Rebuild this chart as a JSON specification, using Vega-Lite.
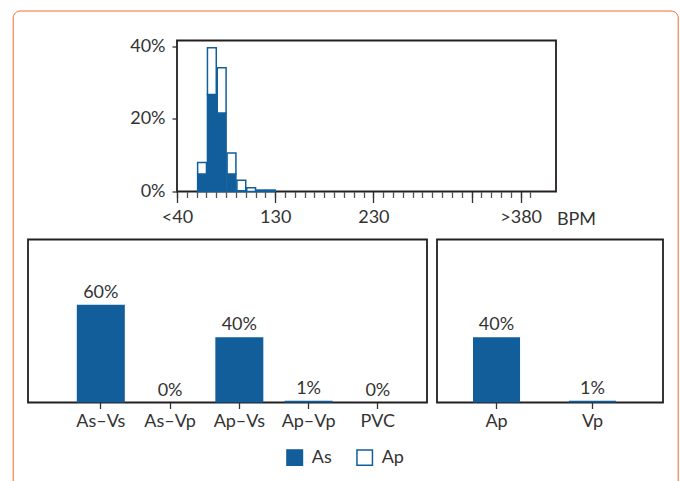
{
  "$schema": "https://vega.github.io/schema/vega-lite/v6.json",
  "background": "white",
  "padding": {"left": 12, "top": 9.5, "right": 2, "bottom": 0},
  "config": {
    "font": "Lato",
    "view": {"stroke": "#231f20", "strokeWidth": 1.8},
    "axis": {"labelFont": "Lato", "labelFontSize": 18, "labelColor": "#333333", "tickColor": "#333333", "tickWidth": 1.3, "domain": false, "grid": false, "titleFont": "Lato", "titleFontSize": 18, "titleColor": "#333333", "titleFontWeight": "normal"},
    "legend": {"labelFont": "Lato", "labelFontSize": 18, "labelColor": "#333333"},
    "text": {"font": "Lato"}
  },
  "datasets": {
    "hist": [
      {"bin_start": 50, "bin_end": 60, "pacing": "As", "share": 0.048},
      {"bin_start": 50, "bin_end": 60, "pacing": "Ap", "share": 0.032},
      {"bin_start": 60, "bin_end": 70, "pacing": "As", "share": 0.267},
      {"bin_start": 60, "bin_end": 70, "pacing": "Ap", "share": 0.129},
      {"bin_start": 70, "bin_end": 80, "pacing": "As", "share": 0.216},
      {"bin_start": 70, "bin_end": 80, "pacing": "Ap", "share": 0.125},
      {"bin_start": 80, "bin_end": 90, "pacing": "As", "share": 0.048},
      {"bin_start": 80, "bin_end": 90, "pacing": "Ap", "share": 0.058},
      {"bin_start": 90, "bin_end": 100, "pacing": "As", "share": 0.002},
      {"bin_start": 90, "bin_end": 100, "pacing": "Ap", "share": 0.029},
      {"bin_start": 100, "bin_end": 110, "pacing": "Ap", "share": 0.010},
      {"bin_start": 110, "bin_end": 120, "pacing": "Ap", "share": 0.004},
      {"bin_start": 120, "bin_end": 130, "pacing": "Ap", "share": 0.004}
    ],
    "modes": [
      {"mode": "As–Vs", "share": 0.60},
      {"mode": "As–Vp", "share": 0.0},
      {"mode": "Ap–Vs", "share": 0.40},
      {"mode": "Ap–Vp", "share": 0.01},
      {"mode": "PVC", "share": 0.0}
    ],
    "paced": [
      {"chamber": "Ap", "share": 0.40},
      {"chamber": "Vp", "share": 0.01}
    ]
  },
  "spacing": 9,
  "vconcat": [
    {
      "spacing": 10,
      "hconcat": [
        {
          "width": 78,
          "height": 10,
          "view": {"stroke": null},
          "data": {"values": []},
          "mark": "point"
        },
        {
          "width": 379,
          "height": 151,
          "data": {"name": "hist"},
          "layer": [
            {
              "mark": {"type": "bar", "stroke": "#115e9b", "strokeWidth": 1.5},
              "encoding": {
                "x": {"field": "bin_start", "type": "quantitative", "bin": "binned",
                  "scale": {"domain": [30, 416], "nice": false, "zero": false},
                  "axis": {"orient": "bottom", "values": [30,40,50,60,70,80,90,100,110,120,130,140,150,160,170,180,190,200,210,220,230,240,250,260,270,280,290,300,310,320,330,340,350,360,370,380,390], "tickSize": 6, "labels": false, "title": null, "tickColor": "#555555"}},
                "x2": {"field": "bin_end"},
                "y": {"field": "share", "type": "quantitative", "stack": "zero",
                  "scale": {"domain": [0, 0.416], "nice": false},
                  "axis": {"values": [0, 0.2, 0.4], "format": ".0%", "tickSize": 5, "labelPadding": 7, "minExtent": 60, "maxExtent": 60, "title": null}},
                "color": {"field": "pacing", "type": "nominal",
                  "scale": {"domain": ["As", "Ap"], "range": ["#115e9b", "#ffffff"]},
                  "legend": {"title": ".", "titleOpacity": 0, "titleFontSize": 10, "titlePadding": 155,
                    "orient": "none", "legendX": -15.3, "legendY": -30, "padding": 273,
                    "strokeColor": "#f26a2e", "cornerRadius": 7,
                    "direction": "horizontal", "symbolType": "square", "symbolSize": 240, "symbolStrokeColor": "#115e9b", "symbolStrokeWidth": 1.5, "symbolOpacity": 1, "labelOffset": 8, "columnPadding": 22}},
                "order": {"field": "pacing", "sort": "descending"}
              }
            },
            {
              "mark": {"type": "bar", "opacity": 0},
              "encoding": {
                "x": {"field": "bin_start", "type": "quantitative", "bin": "binned",
                  "axis": {"orient": "bottom", "values": [30, 130, 230, 330, 380], "tickSize": 11, "labelPadding": 6, "labelFlush": false, "labelOverlap": false,
                    "labelExpr": "datum.value == 30 ? '<40' : datum.value == 380 ? '>380' : datum.value == 330 ? '' : datum.label",
                    "title": "BPM", "titleX": 399, "titleY": 33, "titleAlign": "center", "titleBaseline": "alphabetic", "titleAngle": 0}},
                "x2": {"field": "bin_end"}
              }
            }
          ],
          "resolve": {"axis": {"x": "independent"}}
        }
      ]
    },
    {
      "spacing": 8,
      "hconcat": [
        {
          "width": 399,
          "height": 163,
          "data": {"name": "modes"},
          "encoding": {
            "x": {"field": "mode", "type": "nominal", "sort": null,
              "scale": {"paddingInner": 0.307, "paddingOuter": 0.534, "align": 0.66},
              "axis": {"title": null, "labelAngle": 0, "tickSize": 6, "labelPadding": 4}},
            "y": {"field": "share", "type": "quantitative", "scale": {"domain": [0, 1], "nice": false}, "axis": null}
          },
          "layer": [
            {"mark": {"type": "bar", "color": "#115e9b"}},
            {"mark": {"type": "text", "baseline": "bottom", "dy": -3, "fontSize": 18, "color": "#333333"},
             "encoding": {"text": {"field": "share", "type": "quantitative", "format": ".0%"}}}
          ]
        },
        {
          "width": 226,
          "height": 163,
          "data": {"name": "paced"},
          "encoding": {
            "x": {"field": "chamber", "type": "nominal", "sort": null,
              "scale": {"paddingInner": 0.51, "paddingOuter": 0.432, "align": 0.434},
              "axis": {"title": null, "labelAngle": 0, "tickSize": 6, "labelPadding": 4}},
            "y": {"field": "share", "type": "quantitative", "scale": {"domain": [0, 1], "nice": false}, "axis": null}
          },
          "layer": [
            {"mark": {"type": "bar", "color": "#115e9b"}},
            {"mark": {"type": "text", "baseline": "bottom", "dy": -3, "fontSize": 18, "color": "#333333"},
             "encoding": {"text": {"field": "share", "type": "quantitative", "format": ".0%"}}}
          ]
        }
      ]
    }
  ]
}
